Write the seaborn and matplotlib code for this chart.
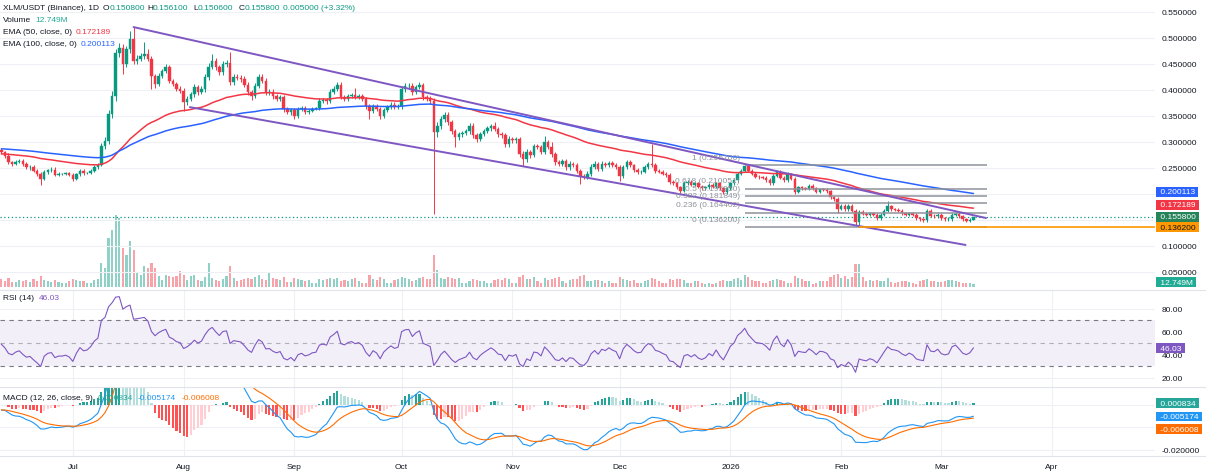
"""XLM/USDT daily chart: candles, EMA 50/100, volume, RSI and MACD panes."""

import matplotlib

matplotlib.use("Agg")
import matplotlib.dates as mdates
import matplotlib.pyplot as plt
import numpy as np
import pandas as pd
import seaborn as sns
from matplotlib.lines import Line2D

# ---------------------------------------------------------------- data
FIRST_DAY = "2025-06-11"
FIRST_OPEN = 0.284

# daily closes
close_jun = [0.280, 0.273, 0.261, 0.258, 0.262, 0.264, 0.257, 0.251, 0.252, 0.245,
             0.238, 0.229, 0.242, 0.246, 0.247, 0.237, 0.239, 0.239, 0.240, 0.237]
close_jul = [0.229, 0.238, 0.245, 0.240, 0.241, 0.245, 0.252, 0.256, 0.293, 0.302,
             0.354, 0.389, 0.472, 0.480, 0.450, 0.479, 0.498, 0.456, 0.460, 0.465,
             0.470, 0.460, 0.427, 0.412, 0.427, 0.437, 0.444, 0.418, 0.412, 0.402, 0.399]
close_aug = [0.377, 0.383, 0.392, 0.405, 0.396, 0.402, 0.425, 0.445, 0.456, 0.444,
             0.434, 0.450, 0.452, 0.415, 0.425, 0.423, 0.421, 0.410, 0.396, 0.388,
             0.408, 0.425, 0.418, 0.396, 0.397, 0.388, 0.383, 0.386, 0.363, 0.357, 0.362]
close_sep = [0.350, 0.363, 0.366, 0.358, 0.360, 0.364, 0.365, 0.379, 0.381, 0.379,
             0.396, 0.402, 0.410, 0.386, 0.383, 0.388, 0.390, 0.386, 0.388, 0.383,
             0.369, 0.360, 0.369, 0.364, 0.350, 0.361, 0.367, 0.372, 0.367, 0.369]
close_oct = [0.402, 0.407, 0.408, 0.396, 0.405, 0.410, 0.386, 0.383, 0.379, 0.319,
             0.330, 0.344, 0.352, 0.338, 0.321, 0.309, 0.315, 0.318, 0.321, 0.331,
             0.313, 0.306, 0.315, 0.321, 0.326, 0.331, 0.325, 0.315, 0.313, 0.296, 0.306]
close_nov = [0.303, 0.306, 0.277, 0.267, 0.281, 0.275, 0.292, 0.290, 0.281, 0.300,
             0.290, 0.277, 0.261, 0.258, 0.263, 0.251, 0.258, 0.256, 0.245, 0.235,
             0.233, 0.239, 0.252, 0.258, 0.249, 0.258, 0.255, 0.260, 0.255, 0.252]
close_dec = [0.235, 0.252, 0.261, 0.255, 0.247, 0.242, 0.243, 0.252, 0.258, 0.255,
             0.245, 0.243, 0.239, 0.236, 0.223, 0.221, 0.213, 0.206, 0.221, 0.223,
             0.218, 0.221, 0.214, 0.211, 0.213, 0.218, 0.214, 0.221, 0.211, 0.203, 0.211]
close_jan = [0.221, 0.226, 0.239, 0.245, 0.254, 0.245, 0.239, 0.233, 0.232, 0.231,
             0.227, 0.221, 0.235, 0.243, 0.231, 0.226, 0.238, 0.229, 0.204, 0.213,
             0.211, 0.210, 0.216, 0.211, 0.204, 0.209, 0.208, 0.205, 0.194, 0.191, 0.172]
close_feb = [0.176, 0.171, 0.176, 0.168, 0.146, 0.165, 0.162, 0.160, 0.163, 0.160,
             0.153, 0.160, 0.168, 0.176, 0.171, 0.170, 0.168, 0.163, 0.160, 0.163,
             0.160, 0.153, 0.151, 0.150, 0.168, 0.158, 0.157, 0.160]
close_mar = [0.153, 0.151, 0.152, 0.160, 0.162, 0.157, 0.151, 0.149, 0.1508, 0.1558]

# wick lengths above / below the body, in 0.001 USDT
up_jun = [4, 3, 5, 3, 4, 3, 3, 4, 3, 3, 3, 4, 5, 3, 4, 4, 3, 2, 3, 3]
dn_jun = [3, 4, 3, 4, 3, 3, 4, 3, 4, 3, 4, 12, 3, 3, 3, 3, 3, 2, 3, 3]
up_jul = [3, 3, 3, 3, 2, 3, 4, 4, 6, 8, 8, 10, 6, 10, 8, 6, 15, 23, 8, 6, 23, 8, 6, 4, 5, 4, 6, 5, 4, 4, 5]
dn_jul = [4, 3, 4, 3, 2, 3, 3, 3, 3, 6, 6, 8, 10, 8, 19, 6, 8, 6, 6, 5, 6, 5, 25, 8, 4, 4, 5, 4, 5, 4, 5]
up_aug = [5, 5, 4, 6, 5, 5, 6, 6, 13, 5, 5, 6, 5, 21, 6, 5, 5, 5, 5, 4, 6, 6, 5, 5, 4, 4, 5, 4, 4, 4, 4]
dn_aug = [17, 5, 4, 5, 5, 4, 5, 5, 5, 6, 6, 5, 5, 5, 5, 4, 5, 5, 5, 8, 4, 5, 5, 5, 5, 5, 4, 5, 5, 4, 5]
up_sep = [4, 4, 4, 4, 3, 3, 3, 5, 4, 4, 6, 5, 5, 5, 4, 4, 4, 14, 4, 4, 3, 4, 4, 4, 4, 4, 4, 4, 4, 5]
dn_sep = [6, 4, 4, 4, 4, 3, 3, 4, 4, 5, 4, 4, 4, 4, 5, 4, 4, 4, 4, 4, 5, 16, 4, 4, 5, 4, 4, 4, 4, 4]
up_oct = [5, 6, 5, 5, 5, 6, 4, 4, 5, 6, 8, 6, 6, 5, 5, 4, 5, 4, 4, 5, 6, 4, 4, 4, 4, 4, 7, 4, 4, 4, 5]
dn_oct = [5, 5, 5, 5, 4, 4, 5, 5, 5, 158, 10, 5, 5, 5, 6, 19, 5, 5, 4, 5, 5, 6, 4, 4, 4, 4, 4, 5, 5, 5, 5]
up_nov = [4, 4, 4, 5, 5, 4, 5, 5, 4, 12, 4, 10, 4, 4, 5, 4, 5, 4, 4, 4, 4, 5, 5, 5, 4, 5, 4, 4, 4, 4]
dn_nov = [4, 4, 6, 13, 5, 5, 4, 4, 5, 4, 4, 5, 5, 4, 4, 5, 4, 4, 5, 16, 4, 4, 4, 4, 4, 4, 4, 4, 4, 4]
up_dec = [4, 4, 4, 4, 3, 3, 3, 4, 4, 38, 4, 3, 3, 3, 4, 4, 3, 3, 4, 3, 3, 3, 3, 3, 3, 3, 3, 3, 3, 3, 3]
dn_dec = [10, 4, 4, 3, 4, 3, 3, 3, 3, 4, 4, 3, 3, 3, 4, 4, 4, 4, 3, 3, 3, 3, 3, 3, 3, 3, 3, 3, 3, 3, 3]
up_jan = [3, 3, 4, 3, 1.7, 3, 3, 3, 3, 3, 3, 3, 4, 4, 3, 3, 4, 3, 3, 3, 3, 3, 3, 3, 3, 3, 3, 3, 3, 3, 3]
dn_jan = [3, 3, 3, 3, 3, 3, 3, 3, 3, 3, 3, 4, 3, 3, 3, 3, 3, 3, 4, 3, 3, 3, 3, 3, 3, 3, 3, 3, 4, 4, 9]
up_feb = [4, 4, 4, 4, 4, 5, 4, 3, 3, 3, 3, 3, 3, 11, 3, 3, 3, 3, 3, 3, 3, 3, 3, 3, 3, 3, 3, 3]
dn_feb = [3, 3, 3, 3, 5, 9.8, 3, 3, 3, 3, 3, 3, 3, 3, 3, 3, 3, 3, 3, 3, 3, 3, 3, 3, 3, 3, 3, 3]
up_mar = [3, 3, 3, 3, 3, 3, 3, 3, 3, 0.3]
dn_mar = [3, 3, 3, 3, 3, 3, 3, 3, 3, 0.2]

# daily volume, millions of XLM
vol_jun = [30, 22, 35, 20, 18, 28, 22, 25, 18, 30, 24, 40, 26, 22, 20, 25, 18, 15, 16, 22]
vol_jul = [30, 28, 22, 24, 14, 16, 26, 30, 90, 72, 185, 215, 270, 260, 146, 120, 172, 139, 52, 45,
           79, 71, 90, 71, 41, 26, 45, 41, 38, 41, 60]
vol_aug = [45, 26, 41, 45, 26, 22, 38, 90, 35, 26, 22, 30, 41, 79, 34, 22, 26, 30, 34, 30,
           38, 45, 30, 26, 52, 34, 30, 26, 38, 18, 20]
vol_sep = [34, 30, 26, 22, 26, 15, 15, 30, 26, 30, 34, 30, 34, 22, 26, 22, 30, 34, 22, 15,
           15, 45, 30, 26, 38, 30, 15, 15, 26, 30]
vol_oct = [38, 34, 30, 22, 26, 34, 38, 30, 30, 122, 64, 34, 30, 38, 34, 30, 34, 15, 15, 22,
           30, 26, 22, 22, 15, 15, 26, 30, 26, 34, 30]
vol_nov = [15, 15, 38, 45, 30, 30, 38, 22, 15, 34, 26, 30, 34, 38, 22, 15, 26, 30, 30, 41,
           45, 22, 22, 26, 26, 22, 15, 22, 15, 15]
vol_dec = [38, 30, 26, 22, 26, 15, 15, 22, 26, 34, 30, 22, 15, 15, 30, 26, 30, 30, 26, 15,
           15, 22, 22, 15, 11, 15, 11, 15, 22, 26, 22]
vol_jan = [22, 30, 34, 26, 45, 38, 26, 22, 22, 15, 15, 22, 26, 30, 26, 22, 15, 15, 41, 34,
           30, 22, 22, 11, 15, 22, 22, 22, 38, 45, 48]
vol_feb = [34, 41, 30, 38, 85, 85, 38, 22, 26, 22, 26, 22, 22, 34, 18, 15, 18, 22, 22, 18,
           15, 11, 22, 26, 30, 22, 22, 18]
vol_mar = [18, 22, 26, 26, 22, 18, 15, 15, 15, 12.749]

# indicator state at the left edge of the chart
EMA50_SEED, EMA100_SEED = 0.277, 0.287
EMA12_SEED, EMA26_SEED, SIGNAL_SEED = 0.2765, 0.2792, -0.0022
RSI_GAIN_SEED, RSI_LOSS_SEED = 0.0042, 0.0040

# drawings
channel_upper = [("2025-07-18", 0.521), ("2026-03-13 12:00", 0.1538)]
channel_lower = [("2025-08-02 18:00", 0.367), ("2026-03-07 19:00", 0.102)]
fib_span = ("2026-01-05", "2026-03-13 20:00")
fib_prices = [0.2557, 0.210051, 0.19595, 0.181849, 0.164402, 0.1362]
fib_labels = ["1 (0.255700)", "0.618 (0.210051)", "0.5 (0.195950)",
              "0.382 (0.181849)", "0.236 (0.164402)", "0 (0.136200)"]
support_start, support_price = "2026-02-06", 0.1362
last_price = 0.1558

# legend values shown by the chart
ema50_last, ema100_last = 0.172189, 0.200113
rsi_last = 46.03
macd_hist_last, macd_last, signal_last = 0.000834, -0.005174, -0.006008
volume_last = 12.749

month_starts = ["2025-07-01", "2025-08-01", "2025-09-01", "2025-10-01", "2025-11-01",
                "2025-12-01", "2026-01-01", "2026-02-01", "2026-03-01", "2026-04-01"]
month_labels = ["Jul", "Aug", "Sep", "Oct", "Nov", "Dec", "2026", "Feb", "Mar", "Apr"]
price_ticks = [0.05, 0.10, 0.15, 0.20, 0.25, 0.30, 0.35, 0.40, 0.45, 0.50, 0.55]
price_tick_labels = ["0.050000", "0.100000", "", "", "0.250000", "0.300000", "0.350000",
                     "0.400000", "0.450000", "0.500000", "0.550000"]
rsi_ticks = [20, 40, 60, 80]
rsi_tick_labels = ["20.00", "40.00", "60.00", "80.00"]
macd_ticks = [-0.02, -0.01, 0.0]
macd_tick_labels = ["-0.020000", "", ""]


def to_x(stamp):
    return mdates.date2num(pd.Timestamp(stamp))


# ---------------------------------------------------------------- series
closes = np.array(close_jun + close_jul + close_aug + close_sep + close_oct
                  + close_nov + close_dec + close_jan + close_feb + close_mar)
up_wick = np.array(up_jun + up_jul + up_aug + up_sep + up_oct + up_nov
                   + up_dec + up_jan + up_feb + up_mar) / 1000
dn_wick = np.array(dn_jun + dn_jul + dn_aug + dn_sep + dn_oct + dn_nov
                   + dn_dec + dn_jan + dn_feb + dn_mar) / 1000
volume = np.array(vol_jun + vol_jul + vol_aug + vol_sep + vol_oct + vol_nov
                  + vol_dec + vol_jan + vol_feb + vol_mar)

dates = pd.date_range(FIRST_DAY, periods=len(closes), freq="D")
xnum = mdates.date2num(dates)
opens = np.concatenate([[FIRST_OPEN], closes[:-1]])
highs = np.maximum(opens, closes) + up_wick
lows = np.minimum(opens, closes) - dn_wick


def ema(values, span, seed):
    alpha = 2 / (span + 1)
    out, prev = [], seed
    for v in values:
        prev = alpha * v + (1 - alpha) * prev
        out.append(prev)
    return np.array(out)


def rsi(values, prev_close, period, gain, loss):
    diffs = np.diff(np.concatenate([[prev_close], values]))
    out = []
    for d in diffs:
        gain = (gain * (period - 1) + max(d, 0)) / period
        loss = (loss * (period - 1) + max(-d, 0)) / period
        out.append(100 - 100 / (1 + gain / loss))
    return np.array(out)


ema50 = ema(closes, 50, EMA50_SEED)
ema100 = ema(closes, 100, EMA100_SEED)
rsi14 = rsi(closes, FIRST_OPEN, 14, RSI_GAIN_SEED, RSI_LOSS_SEED)
macd = ema(closes, 12, EMA12_SEED) - ema(closes, 26, EMA26_SEED)
signal = ema(macd, 9, SIGNAL_SEED)
hist = macd - signal
print("ema50", ema50[-1], "ema100", ema100[-1], "rsi", rsi14[-1],
      "macd", macd[-1], "signal", signal[-1])

# ---------------------------------------------------------------- style
UP, DOWN = "#089981", "#f23645"
VOL_UP, VOL_DOWN = "#8fd1c6", "#f8a3a9"
RED, BLUE, PURPLE, ORANGE = "#f23645", "#2962ff", "#7e57c2", "#ff9800"
MACD_BLUE, MACD_ORANGE = "#2196f3", "#ff6d00"
DARK, GRID, SEP, FIB = "#131722", "#eef0f5", "#e0e3eb", "#8f929b"
FS = 6.0
PT = 0.72  # points per pixel at 100 dpi

sns.set_theme(style="white")
plt.rcParams["font.family"] = ["Liberation Sans", "DejaVu Sans"]

W, H, PLOT_W = 1206, 477, 1155
fig = plt.figure(figsize=(W / 100, H / 100), dpi=100)
fig.patch.set_facecolor("white")


def pane(top, bottom, **kw):
    return fig.add_axes([0, 1 - bottom / H, PLOT_W / W, (bottom - top) / H], **kw)


ax_price = pane(0, 291)
ax_vol = ax_price.twinx()
ax_rsi = pane(291, 388, sharex=ax_price)
ax_macd = pane(388, 457, sharex=ax_price)
ax_vol.set_zorder(0)
ax_price.set_zorder(1)
ax_price.patch.set_visible(False)

month_x = [to_x(m) for m in month_starts]
view_left = to_x("2025-06-10 15:00")
view_right = to_x("2026-04-29 19:00")

# volume (behind the candles)
rising = closes >= opens
ax_vol.bar(xnum, volume, width=0.6, color=np.where(rising, VOL_UP, VOL_DOWN), linewidth=0)
ax_vol.set_ylim(-11, 1080)
ax_vol.set_yticks([])
ax_vol.grid(axis="x", color=GRID, linewidth=0.8)

# candles
cols = np.where(rising, UP, DOWN)
ax_price.vlines(xnum, lows, highs, colors=cols, linewidth=0.7, zorder=2)
ax_price.bar(xnum, np.abs(closes - opens), bottom=np.minimum(opens, closes), width=0.7,
             color=cols, edgecolor=cols, linewidth=0.3, zorder=2)

sns.lineplot(x=xnum, y=ema50, ax=ax_price, color=RED, linewidth=1.1, zorder=3)
sns.lineplot(x=xnum, y=ema100, ax=ax_price, color=BLUE, linewidth=1.1, zorder=3)
ax_price.axhline(last_price, color=UP, linestyle=(0, (1, 2)), linewidth=0.9, zorder=1.5)

# fibonacci retracement
fx0, fx1 = to_x(fib_span[0]), to_x(fib_span[1])
for price, label in zip(fib_prices, fib_labels):
    ax_price.hlines(price, fx0, fx1, color=FIB, linewidth=1.1, zorder=4)
    ax_price.annotate(label, xy=(fx0, price), xytext=(-5 * PT, 8 * PT),
                      textcoords="offset points", ha="right", va="center",
                      fontsize=FS, color=FIB, zorder=6)

# channel
for line in (channel_upper, channel_lower):
    ax_price.plot([to_x(p[0]) for p in line], [p[1] for p in line], color=PURPLE,
                  linewidth=1.4, zorder=5, solid_capstyle="round")

ax_price.hlines(support_price, to_x(support_start), view_right, color=ORANGE,
                linewidth=1.2, zorder=5)

ax_price.set_ylim(0.01538, 0.575)
ax_price.yaxis.tick_right()
ax_price.set_yticks(price_ticks)
ax_price.set_yticklabels(price_tick_labels)
ax_price.grid(axis="y", color=GRID, linewidth=0.8)

# RSI
ax_rsi.axhspan(30, 70, color=PURPLE, alpha=0.09, linewidth=0, zorder=0.5)
for level, alpha in ((70, 1.0), (50, 0.55), (30, 1.0)):
    ax_rsi.axhline(level, color="#787b86", linestyle=(0, (4, 4)), linewidth=0.8,
                   alpha=alpha, zorder=1)
sns.lineplot(x=xnum, y=rsi14, ax=ax_rsi, color=PURPLE, linewidth=0.8, zorder=3)
ax_rsi.set_ylim(12.17, 96.5)
ax_rsi.yaxis.tick_right()
ax_rsi.set_yticks(rsi_ticks)
ax_rsi.set_yticklabels(rsi_tick_labels)
ax_rsi.grid(True, color=GRID, linewidth=0.8)

# MACD
hist_cols = []
prev = EMA12_SEED - EMA26_SEED - SIGNAL_SEED
for h in hist:
    if h >= 0:
        hist_cols.append("#26a69a" if h > prev else "#b2dfdb")
    else:
        hist_cols.append("#ff5252" if h < prev else "#ffcdd2")
    prev = h
ax_macd.bar(xnum, hist, width=0.6, color=hist_cols, linewidth=0, zorder=2)
sns.lineplot(x=xnum, y=macd, ax=ax_macd, color=MACD_BLUE, linewidth=0.8, zorder=3)
sns.lineplot(x=xnum, y=signal, ax=ax_macd, color=MACD_ORANGE, linewidth=0.8, zorder=3)
ax_macd.set_ylim(-0.02267, 0.008)
ax_macd.yaxis.tick_right()
ax_macd.set_yticks(macd_ticks)
ax_macd.set_yticklabels(macd_tick_labels)
ax_macd.grid(True, color=GRID, linewidth=0.8)

ax_macd.set_xticks(month_x)
ax_macd.set_xticklabels(month_labels)
ax_macd.set_xlim(view_left, view_right)

for ax in (ax_price, ax_vol, ax_rsi, ax_macd):
    for spine in ax.spines.values():
        spine.set_visible(False)
    ax.set_xlabel("")
    ax.set_ylabel("")
    ax.set_axisbelow(True)
    ax.tick_params(length=0, labelsize=FS, colors=DARK, pad=5)
for ax in (ax_price, ax_vol, ax_rsi):
    ax.tick_params(axis="x", labelbottom=False)

for y in (291, 388, 457):
    fig.add_artist(Line2D([0, 1], [1 - y / H] * 2, transform=fig.transFigure,
                          color=SEP, linewidth=0.8))


# ---------------------------------------------------------------- labels
def value_tag(ax, value, text, face, shift_px=0, text_color="white"):
    ax.annotate(f" {text} ", xy=(1, value), xycoords=ax.get_yaxis_transform(),
                xytext=(2.5 * PT, shift_px * PT), textcoords="offset points",
                ha="left", va="center", fontsize=FS, color=text_color,
                bbox=dict(boxstyle="square,pad=0.15", fc=face, ec="none"),
                annotation_clip=False, zorder=10)


value_tag(ax_price, ema100_last, f"{ema100_last:.6f}", BLUE, shift_px=2)
value_tag(ax_price, ema50_last, f"{ema50_last:.6f}", RED, shift_px=3.5)
value_tag(ax_price, last_price, f"{last_price:.6f}", "#26835a")
value_tag(ax_price, support_price, f"{support_price:.6f}", ORANGE, text_color=DARK)
value_tag(ax_vol, volume_last, f"{volume_last:.3f}M", "#22ab94", shift_px=1.5)
value_tag(ax_rsi, rsi_last, f"{rsi_last:.2f}", PURPLE)
value_tag(ax_macd, macd_hist_last, f"{macd_hist_last:.6f}", "#26a69a")
value_tag(ax_macd, macd_last, f"{macd_last:.6f}", MACD_BLUE)
value_tag(ax_macd, signal_last, f"{signal_last:.6f}", MACD_ORANGE, shift_px=-10.5)


def legend_row(ax, x, y, parts):
    prev = None
    for text, color, gap in parts:
        if prev is None:
            prev = fig.text(x / W, 1 - y / H, text, color=color, fontsize=FS,
                            ha="left", va="center")
        else:
            prev = ax.annotate(text, xy=(1, 0.5), xycoords=prev, xytext=(gap * PT, 0),
                               textcoords="offset points", ha="left", va="center",
                               color=color, fontsize=FS, annotation_clip=False)


legend_row(ax_price, 3, 8, [("XLM/USDT (Binance), 1D", DARK, 0)])
legend_row(ax_price, 103, 8, [("O", DARK, 0), ("0.150800", UP, 0)])
legend_row(ax_price, 147, 8, [("H", DARK, 0), ("0.156100", UP, 0)])
legend_row(ax_price, 193, 8, [("L", DARK, 0), ("0.150600", UP, 0)])
legend_row(ax_price, 239, 8, [("C", DARK, 0), ("0.155800", UP, 0)])
legend_row(ax_price, 283, 8, [("0.005000 (+3.32%)", UP, 0)])
legend_row(ax_price, 3, 20.5, [("Volume", DARK, 0), (f"{volume_last:.3f}M", "#22ab94", 4)])
legend_row(ax_price, 3, 32.5, [("EMA (50, close, 0)", DARK, 0), (f"{ema50_last:.6f}", RED, 4)])
legend_row(ax_price, 3, 44.5, [("EMA (100, close, 0)", DARK, 0), (f"{ema100_last:.6f}", BLUE, 4)])
legend_row(ax_rsi, 3, 298, [("RSI (14)", DARK, 0), (f"{rsi_last:.2f}", PURPLE, 5)])
legend_row(ax_macd, 3, 399, [("MACD (12, 26, close, 9)", DARK, 0),
                             (f"{macd_hist_last:.6f}", "#26a69a", 5),
                             (f"{macd_last:.6f}", MACD_BLUE, 5),
                             (f"{signal_last:.6f}", MACD_ORANGE, 5)])

fig.savefig("out.png", dpi=100)
plt.close(fig)
